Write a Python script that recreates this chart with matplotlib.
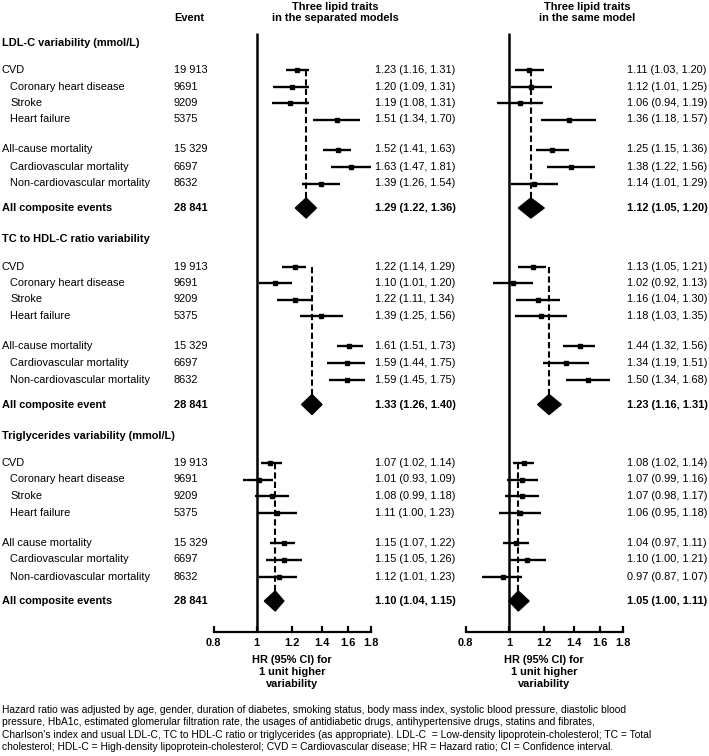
import matplotlib.pyplot as plt
from matplotlib.ticker import NullLocator

plt.rcParams['font.family'] = ['Liberation Sans', 'DejaVu Sans']

# dati
sections = ["LDL-C variability (mmol/L)",
            "TC to HDL-C ratio variability",
            "Triglycerides variability (mmol/L)"]

outcomes = [
    ["CVD", "Coronary heart disease", "Stroke", "Heart failure",
     "All-cause mortality", "Cardiovascular mortality", "Non-cardiovascular mortality",
     "All composite events"],
    ["CVD", "Coronary heart disease", "Stroke", "Heart failure",
     "All-cause mortality", "Cardiovascular mortality", "Non-cardiovascular mortality",
     "All composite event"],
    ["CVD", "Coronary heart disease", "Stroke", "Heart failure",
     "All cause mortality", "Cardiovascular mortality", "Non-cardiovascular mortality",
     "All composite events"],
]
indented = [False, True, True, True, False, True, True, False]
events = ["19 913", "9691", "9209", "5375", "15 329", "6697", "8632", "28 841"]

# HR, lower, upper - modelli separati
hr_sep = [[1.23, 1.20, 1.19, 1.51, 1.52, 1.63, 1.39, 1.29],
          [1.22, 1.10, 1.22, 1.39, 1.61, 1.59, 1.59, 1.33],
          [1.07, 1.01, 1.08, 1.11, 1.15, 1.15, 1.12, 1.10]]
lo_sep = [[1.16, 1.09, 1.08, 1.34, 1.41, 1.47, 1.26, 1.22],
          [1.14, 1.01, 1.11, 1.25, 1.51, 1.44, 1.45, 1.26],
          [1.02, 0.93, 0.99, 1.00, 1.07, 1.05, 1.01, 1.04]]
hi_sep = [[1.31, 1.31, 1.31, 1.70, 1.63, 1.81, 1.54, 1.36],
          [1.29, 1.20, 1.34, 1.56, 1.73, 1.75, 1.75, 1.40],
          [1.14, 1.09, 1.18, 1.23, 1.22, 1.26, 1.23, 1.15]]

# HR, lower, upper - stesso modello
hr_same = [[1.11, 1.12, 1.06, 1.36, 1.25, 1.38, 1.14, 1.12],
           [1.13, 1.02, 1.16, 1.18, 1.44, 1.34, 1.50, 1.23],
           [1.08, 1.07, 1.07, 1.06, 1.04, 1.10, 0.97, 1.05]]
lo_same = [[1.03, 1.01, 0.94, 1.18, 1.15, 1.22, 1.01, 1.05],
           [1.05, 0.92, 1.04, 1.03, 1.32, 1.19, 1.34, 1.16],
           [1.02, 0.99, 0.98, 0.95, 0.97, 1.00, 0.87, 1.00]]
hi_same = [[1.20, 1.25, 1.19, 1.57, 1.36, 1.56, 1.29, 1.20],
           [1.21, 1.13, 1.30, 1.35, 1.56, 1.51, 1.68, 1.31],
           [1.14, 1.16, 1.17, 1.18, 1.11, 1.21, 1.07, 1.11]]

xticks = [0.8, 1, 1.2, 1.4, 1.6, 1.8]
xticklabels = ["0.8", "1", "1.2", "1.4", "1.6", "1.8"]

footnote = ("Hazard ratio was adjusted by age, gender, duration of diabetes, smoking status, body mass index, systolic blood pressure, diastolic blood\n"
            "pressure, HbA1c, estimated glomerular filtration rate, the usages of antidiabetic drugs, antihypertensive drugs, statins and fibrates,\n"
            "Charlson's index and usual LDL-C, TC to HDL-C ratio or triglycerides (as appropriate). LDL-C  = Low-density lipoprotein-cholesterol; TC = Total\n"
            "cholesterol; HDL-C = High-density lipoprotein-cholesterol; CVD = Cardiovascular disease; HR = Hazard ratio; CI = Confidence interval.")

# layout (pixel dall'alto)
W, H = 709, 756
FS = 7.9
sec_top = [43, 239.5, 436]
row_off = [27, 43.5, 60, 76.5, 106.5, 123.5, 140.5, 165]
axis_y = 632

fig = plt.figure(figsize=(W / 100, H / 100), dpi=100)
bg = fig.add_axes([0, 0, 1, 1])
bg.set_xlim(0, W)
bg.set_ylim(H, 0)
bg.axis('off')

# colonna sinistra
bg.text(174, 18, "Event", fontsize=FS, fontweight='bold', va='center')
for s, title in enumerate(sections):
    bg.text(2, sec_top[s], title, fontsize=FS, fontweight='bold', va='center')
    for i, name in enumerate(outcomes[s]):
        y = sec_top[s] + row_off[i]
        bold = (i == 7)
        bg.text(10 if indented[i] else 2, y, name, fontsize=FS, va='center',
                fontweight='bold' if bold else 'normal')
        bg.text(174, y, events[i], fontsize=FS, va='center',
                fontweight='bold' if bold else 'normal')


def forest(left, right, txt_x, head_x, header, hr, lo, hi):
    ax = fig.add_axes([left / W, 1 - axis_y / H, (right - left) / W, axis_y / H])
    ax.patch.set_alpha(0)
    ax.set_xscale('log')
    ax.set_xlim(0.8, 1.8)
    ax.set_ylim(axis_y, 0)
    for sp in ['top', 'left', 'right']:
        ax.spines[sp].set_visible(False)
    ax.spines['bottom'].set_linewidth(1.6)
    ax.set_xticks(xticks)
    ax.set_xticklabels(xticklabels, fontsize=FS, fontweight='bold')
    ax.xaxis.set_minor_locator(NullLocator())
    ax.tick_params(axis='x', direction='in', length=4, width=1.6, pad=4)
    ax.set_yticks([])
    ax.plot([1, 1], [33, axis_y], color='black', lw=1.8, solid_capstyle='butt')

    for s in range(3):
        ys = [sec_top[s] + o for o in row_off]
        # linea tratteggiata sul valore complessivo
        ax.plot([hr[s][7], hr[s][7]], [ys[0], ys[7]], color='black', lw=1.5,
                ls=(0, (3, 1.5)), zorder=1)
        for i in range(7):
            ax.plot([lo[s][i], hi[s][i]], [ys[i], ys[i]], color='black', lw=1.7,
                    solid_capstyle='butt', zorder=2)
            w = hi[s][i] / lo[s][i]
            ms = min(max(0.09 / (w - 1) + 2.0, 3.0), 6.0)
            ax.plot(hr[s][i], ys[i], 's', color='black', ms=ms, zorder=3)
            bg.text(txt_x, ys[i], f"{hr[s][i]:.2f} ({lo[s][i]:.2f}, {hi[s][i]:.2f})",
                    fontsize=FS, va='center')
        # diamante
        yc = ys[7]
        ax.fill([lo[s][7], hr[s][7], hi[s][7], hr[s][7]], [yc, yc - 10, yc, yc + 10],
                color='black', zorder=3)
        bg.text(txt_x, yc, f"{hr[s][7]:.2f} ({lo[s][7]:.2f}, {hi[s][7]:.2f})",
                fontsize=FS, va='center', fontweight='bold')

    bg.text(head_x, 12.5, header, fontsize=FS, fontweight='bold', ha='center',
            va='center', linespacing=1.2)
    bg.text((left + right) / 2, 655, "HR (95% CI) for\n1 unit higher\nvariability",
            fontsize=FS, fontweight='bold', ha='center', va='top', linespacing=1.25)
    return ax


forest(213.5, 370.7, 375, 335, "Three lipid traits\nin the separated models",
       hr_sep, lo_sep, hi_sep)
forest(465.5, 623, 627, 587, "Three lipid traits\nin the same model",
       hr_same, lo_same, hi_same)

bg.text(2, 705, footnote, fontsize=7.4, va='top', linespacing=1.3)

fig.savefig("out.png", dpi=100)
